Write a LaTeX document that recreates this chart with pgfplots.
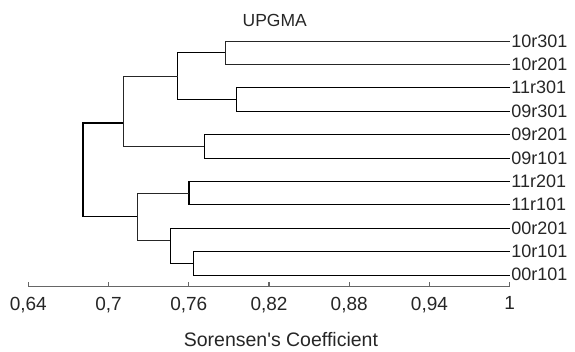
\documentclass[border=0pt]{standalone}
\usepackage{fontspec}
\setmainfont{Liberation Sans}
\usepackage{pgfplots}
\pgfplotsset{compat=1.18}
\begin{document}
\begin{tikzpicture}[x=1pt,y=1pt]
\useasboundingbox (0,0) rectangle (575,351);
\begin{axis}[
  at={(28.3pt,64.3pt)}, anchor=south west,
  scale only axis, width=481.4pt, height=286.7pt,
  xmin=0.64, xmax=1, ymin=64.3, ymax=351,
  axis x line*=bottom, axis y line=none,
  clip=false,
  xtick={0.64,0.7,0.76,0.82,0.88,0.94,1},
  xticklabels={{0,64},{0,7},{0,76},{0,82},{0,88},{0,94},{1}},
  xticklabel style={font=\fontsize{19}{22}\selectfont, inner sep=0pt, yshift=-10pt, text=black!85},
  tick align=inside, major tick length=4.5pt,
  axis line style={black!60, line width=1.2pt},
  every tick/.style={black!60, line width=1.2pt},
  ytick=\empty,
  cycle list={{black!85, line width=1.1pt, no markers, solid}},
]
% A: 10r301 + 10r201
\addplot coordinates {(1,310) (0.7873,310) (0.7873,286.6) (1,286.6)};
% B: 11r301 + 09r301
\addplot coordinates {(1,263.3) (0.7956,263.3) (0.7956,239.9) (1,239.9)};
% C: A + B
\addplot coordinates {(0.7873,298.3) (0.7517,298.3) (0.7517,251.6) (0.7956,251.6)};
% D: 09r201 + 09r101
\addplot coordinates {(1,216.5) (0.7712,216.5) (0.7712,193.1) (1,193.1)};
% E: C + D
\addplot coordinates {(0.7517,275) (0.7111,275) (0.7111,205) (0.7712,205)};
% F: 11r201 + 11r101
\addplot coordinates {(1,169.8) (0.7602,169.8) (0.7602,146.4) (1,146.4)};
% G: 10r101 + 00r101
\addplot coordinates {(1,99.7) (0.7632,99.7) (0.7632,76.3) (1,76.3)};
% H: 00r201 + G
\addplot coordinates {(1,123) (0.7458,123) (0.7458,88) (0.7632,88)};
% I: F + H
\addplot coordinates {(0.7602,157.7) (0.7213,157.7) (0.7213,111) (0.7458,111)};
% Root: E + I
\addplot coordinates {(0.7111,228) (0.6809,228) (0.6809,134.3) (0.7213,134.3)};

\begin{scope}[every node/.style={anchor=west, inner sep=0pt, xshift=1.5pt, font=\fontsize{18}{20}\selectfont, text=black!85}]
\node at (axis cs:1,310) {10r301};
\node at (axis cs:1,286.6) {10r201};
\node at (axis cs:1,263.3) {11r301};
\node at (axis cs:1,239.9) {09r301};
\node at (axis cs:1,216.5) {09r201};
\node at (axis cs:1,193.1) {09r101};
\node at (axis cs:1,169.8) {11r201};
\node at (axis cs:1,146.4) {11r101};
\node at (axis cs:1,123) {00r201};
\node at (axis cs:1,99.7) {10r101};
\node at (axis cs:1,76.3) {00r101};
\end{scope}
\node[inner sep=0pt, font=\fontsize{17.5}{20}\selectfont, text=black!85] at (axis cs:0.8243,330.5) {UPGMA};
\node[inner sep=0pt, font=\fontsize{19.5}{23}\selectfont, text=black!85] at (axis cs:0.8289,11) {Sorensen\textquotesingle s Coefficient};
\end{axis}
\end{tikzpicture}
\end{document}
